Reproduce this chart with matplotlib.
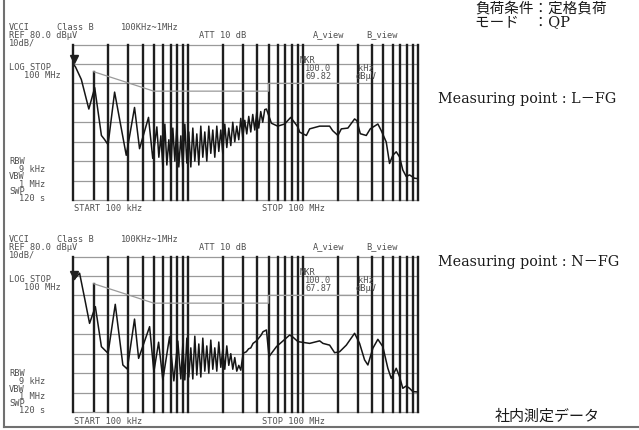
import matplotlib
matplotlib.use('Agg')
import matplotlib.pyplot as plt

W, H = 639, 430
fig = plt.figure(figsize=(W / 100, H / 100), dpi=100)

# ---------------- data ----------------
freq_L = [0.1, 0.104, 0.117, 0.136, 0.153, 0.175, 0.186, 0.20, 0.228, 0.288,
          0.34, 0.376, 0.45, 0.49,
          0.532, 0.5537, 0.5764, 0.600, 0.6244, 0.650, 0.6765, 0.7042, 0.733, 0.763,
          0.7941, 0.8266, 0.8604, 0.8955, 0.9321, 0.9702, 1.0099, 1.0511, 1.094, 1.1388,
          1.1853, 1.2338, 1.2842, 1.3367, 1.3913, 1.4482, 1.5074, 1.569, 1.6331, 1.6999,
          1.7694, 1.8417, 1.917, 1.9953, 2.0769, 2.1618, 2.2502, 2.3421, 2.4379, 2.5375,
          2.6412, 2.7492, 2.8616, 2.9785, 3.1003, 3.227, 3.3589, 3.4962, 3.6391, 3.7879,
          3.9427, 4.1039, 4.2716, 4.4463, 4.628,
          4.786, 5.29, 6.00, 6.90, 7.79, 9.01, 9.32, 10.66, 11.39,
          13.92, 17.0, 18.05, 20.08, 21.49, 24.52, 28.04, 29.36, 31.44, 35.44,
          38.39, 44.72, 47.86, 52.91, 56.51, 60.36, 64.63, 69.05, 73.76, 78.97,
          84.38, 93.24, 100]
level_L = [69.8, 68.5, 62.0, 46.8, 57.8, 33.2, 31.2, 28.5, 55.5, 23.0,
           47.6, 26.4, 42.5, 21.4,
           37.6, 22, 33, 17, 39, 18, 31, 16, 37, 20,
           38, 17, 33, 16, 39, 19, 35, 17, 37, 20,
           34, 18, 38, 22, 35, 20, 38, 24, 36, 22,
           38, 25, 36, 24, 39, 27, 37, 28, 40, 30,
           38, 31, 42, 32, 41, 34, 43, 35, 44, 36,
           45, 37, 45.5, 40, 46.5,
           46.8, 39.5, 38.0, 39.1, 42.5, 37.5, 34.9, 33.2, 36.6,
           38.0, 38.0, 35.7, 33.2, 36.6, 37.0, 41.7, 40.8, 34.1, 33.2,
           36.6, 39.1, 35.7, 29.8, 18.8, 23.0, 24.8, 22.2, 15.4, 12.1,
           12.9, 11.2, 11.0]

freq_N = [0.1, 0.113, 0.125, 0.138, 0.155, 0.175, 0.20, 0.231, 0.269, 0.294,
          0.34, 0.369, 0.46, 0.501, 0.551, 0.600, 0.686, 0.748, 0.810,
          0.8604, 0.8955, 0.9321, 0.9702, 1.0099, 1.0511, 1.094, 1.1388, 1.1853, 1.2338,
          1.2842, 1.3367, 1.3913, 1.4482, 1.5074, 1.569, 1.6331, 1.6999, 1.7694, 1.8417,
          1.917, 1.9953, 2.0769, 2.1618, 2.2502, 2.3421, 2.4379, 2.5375, 2.6412, 2.7492,
          2.8616, 3.0, 3.2, 3.35, 3.5, 3.66, 3.9, 4.1, 4.3, 4.47,
          4.79, 5.04, 5.85, 7.63, 8.15, 9.01, 11.39, 13.92, 14.87, 17.0,
          18.79, 20.77, 23.75, 28.04, 30.99, 34.26, 36.6, 40.46, 44.72, 49.42,
          54.62, 58.48, 64.63, 69.05, 73.76, 78.97, 84.38, 90.14, 100]
level_N = [67.9, 71.4, 58.5, 45.6, 54.2, 33.6, 30.2, 55.4, 24.2, 22.1,
           47.8, 27.6, 43.9, 20.7, 35.9, 16.5, 38.7, 16.0, 36.5,
           17, 35, 16.5, 38, 18, 33, 17, 39, 19, 35,
           18, 38, 21, 34, 20, 37, 22, 33, 21, 36,
           23, 32, 22, 34, 24, 30, 22, 28, 21, 24,
           21.5, 30.2, 31, 32.5, 33, 35.3, 36.5, 38, 39.5, 41.3,
           42.2, 28.5, 33.6, 39.6, 38.5, 36.2, 35.3, 36.6, 35.3, 34.4,
           30.5, 31.0, 34.4, 40.5, 35.3, 26.8, 24.2, 32.8, 37.4, 33.6,
           22.5, 17.3, 22.5, 18.2, 12.2, 13.4, 12.2, 10.5, 10.3]

limit_freq = [0.15, 0.5, 5.0, 5.0, 30.0]
limit_level = [66.0, 56.0, 56.0, 60.0, 60.0]

marker_freq = 0.1
marker_levels = ["69.82", "67.87"]
measuring_points = ["L－FG", "N－FG"]

# ---------------- helpers ----------------
MONO = 'DejaVu Sans Mono'
TXT = '#505050'


def T(x, y, s, size=6.2, color=TXT, family=MONO, **kw):
    fig.text(x / W, 1 - y / H, s, fontsize=size, color=color,
             family=family, va='center', ha='left', **kw)


def panel(top_px, freq, level, mkr):
    bottom_px = top_px + 155.5
    left_px, right_px = 73.5, 418
    ax = fig.add_axes([left_px / W, 1 - bottom_px / H,
                       (right_px - left_px) / W, 155.5 / H])
    ax.set_xscale('log')
    ax.set_xlim(0.1, 100)
    ax.set_ylim(0, 80)
    ax.axis('off')
    for yv in range(0, 90, 10):
        ax.axhline(yv, color='#9a9a9a', lw=0.9, zorder=1, clip_on=False)
    for dec in (0.1, 1, 10):
        for m in range(1, 10):
            ax.axvline(m * dec, color='#1e1e1e', lw=1.7, zorder=2, clip_on=False)
    ax.axvline(100, color='#1e1e1e', lw=1.7, zorder=2, clip_on=False)
    # 150 kHz limit start (thick) and limit line (thin)
    ax.plot([limit_freq[0], limit_freq[0]], [0, limit_level[0]],
            color='#1e1e1e', lw=1.7, zorder=2)
    ax.plot(limit_freq, limit_level, color='#9a9a9a', lw=0.9, zorder=2)
    ax.plot(freq, level, color='#151515', lw=1.1, zorder=3)
    ax.plot([marker_freq * 1.01], [float(mkr) + 2.5], marker='v', ms=5.5,
            color='#1e1e1e', clip_on=False, zorder=4)
    return ax


for i, (fq, lv) in enumerate([(freq_L, level_L), (freq_N, level_N)]):
    dy = 212 * i
    panel(44.5 + dy, fq, lv, marker_levels[i])
    # header
    T(9, 27.5 + dy, "VCCI")
    T(57, 27.5 + dy, "Class B")
    T(121, 27.5 + dy, "100KHz~1MHz")
    T(9, 35 + dy, "REF 80.0 dBμV")
    T(199, 35 + dy, "ATT 10 dB")
    T(313, 35 + dy, "A_view")
    T(366, 35 + dy, "B_view")
    T(9, 42.5 + dy, "10dB/")
    T(9, 68 + dy, "LOG STOP")
    T(24, 76 + dy, "100 MHz")
    # marker readout
    T(300, 60.5 + dy, "MKR")
    T(305, 68.3 + dy, "100.0")
    T(358, 68.3 + dy, "kHz")
    T(305, 76.3 + dy, marker_levels[i])
    T(355, 76.3 + dy, "dBμV")
    # settings
    T(9, 161.5 + dy, "RBW")
    T(19, 169.5 + dy, "9 kHz")
    T(9, 177 + dy, "VBW")
    T(19, 184.5 + dy, "1 MHz")
    T(9, 191.5 + dy, "SWP")
    T(19, 198.5 + dy, "120 s")
    # start / stop
    T(74, 209 + dy, "START 100 kHz")
    T(262, 209 + dy, "STOP 100 MHz")
    # measuring point
    T(438, 99 + 163 * i, "Measuring point : " + measuring_points[i],
      size=10.3, color='#1a1a1a', family=['DejaVu Serif', 'Noto Sans CJK JP'])

CJK = ['DejaVu Serif', 'Noto Sans CJK JP']
T(475, 9, "負荷条件：定格負荷", size=10.5, color='#1a1a1a', family=CJK)
T(475, 23, "モード　：QP", size=10.5, color='#1a1a1a', family=CJK)
T(495, 416, "社内測定データ", size=10.8, color='#1a1a1a', family=CJK)

# outer frame (left and bottom)
fig.add_artist(plt.Line2D([3.5 / W, 3.5 / W], [1 - 427 / H, 1], color='#707070', lw=1.5))
fig.add_artist(plt.Line2D([3.5 / W, 1], [1 - 427 / H, 1 - 427 / H], color='#707070', lw=1.5))

fig.savefig('out.png', dpi=100)
